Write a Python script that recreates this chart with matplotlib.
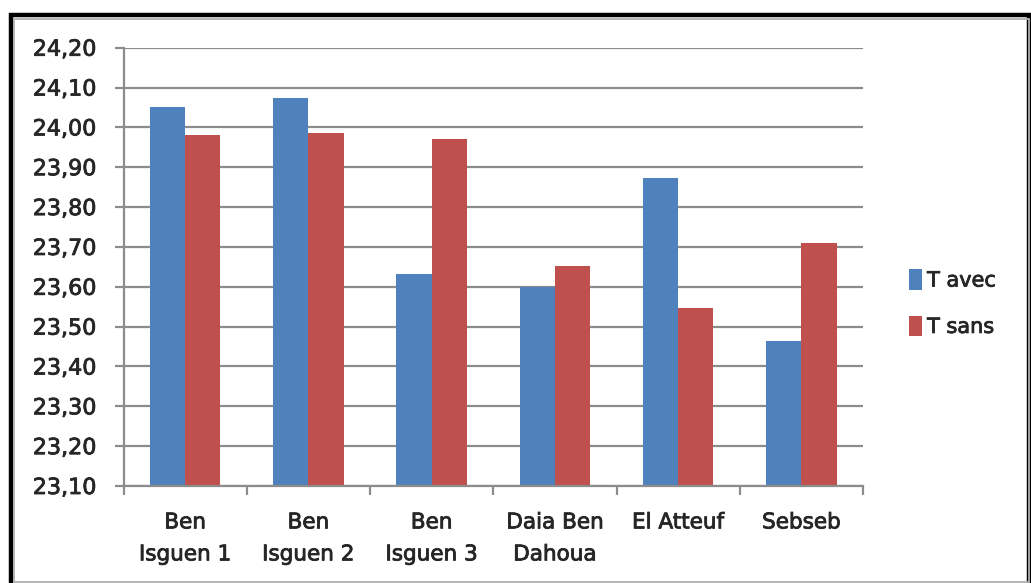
import matplotlib
matplotlib.use("Agg")
import matplotlib.pyplot as plt
import matplotlib.patheffects as pe
from matplotlib.patches import Rectangle
from matplotlib.ticker import FixedLocator, FuncFormatter
import numpy as np

# Data
categories = ["Ben\nIsguen 1", "Ben\nIsguen 2", "Ben\nIsguen 3",
              "Daia Ben\nDahoua", "El Atteuf", "Sebseb"]
t_avec = [24.05, 24.075, 23.632, 23.60, 23.873, 23.463]
t_sans = [23.98, 23.986, 23.972, 23.652, 23.547, 23.71]
series_names = ["T avec", "T sans"]
y_ticks = [23.10, 23.20, 23.30, 23.40, 23.50, 23.60, 23.70,
           23.80, 23.90, 24.00, 24.10, 24.20]

BLUE = "#4F81BD"
RED = "#C0504D"
GRID = "#8C8C8C"
TEXT = "#262626"
heavy = [pe.withStroke(linewidth=0.6, foreground=TEXT)]

W, H = 1031, 583
fig = plt.figure(figsize=(W / 100, H / 100), dpi=100)
fig.patch.set_facecolor("white")

# Outer frame: thick black border with a thin grey inner line
fig.add_artist(Rectangle((11 / W, -0.02), (1029 - 11) / W, 1 - 15 / H + 0.02,
                         transform=fig.transFigure, fill=False,
                         edgecolor="black", linewidth=3.2, zorder=0))
fig.add_artist(Rectangle((14 / W, 1 - 581.5 / H), (1029 - 14) / W, (581.5 - 18.5) / H,
                         transform=fig.transFigure, fill=False,
                         edgecolor="#B0B0B0", linewidth=1.3, zorder=0))

ax = fig.add_axes([123.5 / W, 1 - 486 / H, (863 - 123.5) / W, (486 - 47.7) / H])
ax.set_facecolor("white")

x = np.arange(len(categories))
bw = 1 / 3.5
base = y_ticks[0]
ax.bar(x - bw / 2, np.array(t_avec) - base, bw, bottom=base, color=BLUE,
       label=series_names[0], zorder=3)
ax.bar(x + bw / 2, np.array(t_sans) - base, bw, bottom=base, color=RED,
       label=series_names[1], zorder=3)

ax.set_xlim(-0.5, len(categories) - 0.5)
ax.set_ylim(y_ticks[0], y_ticks[-1])

ax.yaxis.set_major_locator(FixedLocator(y_ticks))
ax.yaxis.set_major_formatter(FuncFormatter(lambda v, p: f"{v:.2f}".replace(".", ",")))
ax.grid(axis="y", color=GRID, linewidth=1.6, zorder=1)

# Category boundary ticks on the x axis, labels centred under each group
ax.set_xticks(np.arange(len(categories) + 1) - 0.5)
ax.set_xticklabels([])
ax.set_xticks(x, minor=True)
ax.set_xticklabels(categories, minor=True, fontsize=15.5, color=TEXT,
                   linespacing=1.75)
ax.tick_params(axis="x", which="minor", length=0, pad=19)
ax.tick_params(axis="x", which="major", length=6.5, width=1.6, color=GRID)
ax.tick_params(axis="y", length=6.5, width=1.6, color=GRID, labelsize=16,
               labelcolor=TEXT, pad=13)
for lbl in ax.get_yticklabels() + ax.get_xticklabels(minor=True):
    lbl.set_path_effects(heavy)

for side in ["top", "right"]:
    ax.spines[side].set_visible(False)
for side in ["left", "bottom"]:
    ax.spines[side].set_color(GRID)
    ax.spines[side].set_linewidth(1.6)
    ax.spines[side].set_zorder(4)

leg = ax.legend(loc="center left", bbox_to_anchor=(899 / W, 1 - 303 / H),
                bbox_transform=fig.transFigure, frameon=False, fontsize=15,
                handlelength=0.6, handleheight=1.15, handletextpad=0.25,
                labelspacing=1.2, borderpad=0)
for t in leg.get_texts():
    t.set_color(TEXT)
    t.set_path_effects(heavy)

fig.savefig("out.png", dpi=100, facecolor="white")
